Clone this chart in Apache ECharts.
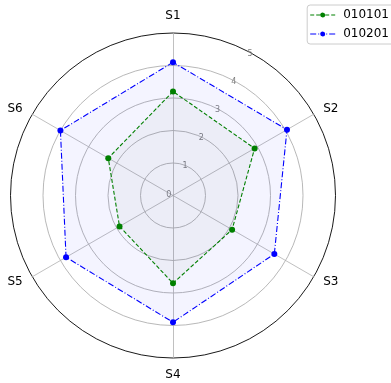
<!DOCTYPE html>
<html>
<head>
<meta charset="utf-8">
<script src="https://cdn.jsdelivr.net/npm/echarts@6/dist/echarts.min.js"></script>
<style>
  html,body{margin:0;padding:0;background:#fff;}
  #chart{width:391px;height:383px;}
</style>
</head>
<body>
<div id="chart"></div>
<script>
// 雷达图数据
var categories = ['S1', 'S2', 'S3', 'S4', 'S5', 'S6'];
var radialTicks = [0, 1, 2, 3, 4, 5];
var seriesNames = ['010101', '010201'];
var values010101 = [3.2, 2.9, 2.1, 2.7, 1.9, 2.3];
var values010201 = [4.1, 4.05, 3.6, 3.9, 3.8, 4.0];

var maxValue = radialTicks[radialTicks.length - 1];
var center = [173, 195.5];
var radius = 162.5;

// radar runs counter-clockwise, so order the axes S1, S6, S5 ... to get them clockwise
function clockwise(arr) {
  return [arr[0]].concat(arr.slice(1).reverse());
}

// legend icons: dashed line + dot, dash-dot line + dot
var iconDashed = 'path://M0,4.4h4v1.2h-4z M6,4.4h4v1.2h-4z M15,4.4h4v1.2h-4z M21,4.4h4v1.2h-4z M12.5,2.5a2.5,2.5 0 1,0 0.01,0z';
var iconDashDot = 'path://M0,4.4h6v1.2h-6z M8,4.4h1v1.2h-1z M16,4.4h1v1.2h-1z M19,4.4h6v1.2h-6z M12.5,2.5a2.5,2.5 0 1,0 0.01,0z';

var chart = echarts.init(document.getElementById('chart'));
var option = {
  animation: false,
  backgroundColor: '#fff',
  legend: {
    right: -4,
    top: 5,
    orient: 'vertical',
    itemWidth: 25,
    itemHeight: 10,
    itemGap: 7,
    padding: [4, 6, 4, 3],
    borderColor: '#cccccc',
    borderWidth: 1,
    borderRadius: 3,
    backgroundColor: '#fff',
    textStyle: {fontFamily: 'DejaVu Sans', fontSize: 12, color: '#000', padding: [0, 0, 0, 3]},
    data: [
      {name: seriesNames[0], icon: iconDashed, itemStyle: {color: '#008000'}},
      {name: seriesNames[1], icon: iconDashDot, itemStyle: {color: '#0000ff'}}
    ]
  },
  radar: {
    center: center,
    radius: radius,
    shape: 'circle',
    startAngle: 90,
    splitNumber: 5,
    indicator: clockwise(categories).map(function (c) { return {name: c, min: 0, max: maxValue}; }),
    axisName: {color: '#000', fontFamily: 'DejaVu Sans', fontSize: 12},
    nameGap: 11,
    axisLine: {lineStyle: {color: '#b0b0b0', width: 0.8}},
    splitLine: {lineStyle: {color: ['#b0b0b0', '#b0b0b0', '#b0b0b0', '#b0b0b0', '#b0b0b0', '#000000'], width: 0.9}},
    splitArea: {show: false},
    axisTick: {show: false},
    axisLabel: {show: false}
  },
  polar: {center: center, radius: radius},
  angleAxis: {
    startAngle: 60,
    axisLine: {show: false},
    axisTick: {show: false},
    axisLabel: {show: false},
    splitLine: {show: false}
  },
  radiusAxis: {
    min: 0,
    max: maxValue,
    interval: 1,
    axisLine: {show: false},
    axisTick: {show: false},
    splitLine: {show: false},
    axisLabel: {
      color: '#808080',
      fontFamily: 'DejaVu Sans',
      fontSize: 8,
      margin: 2,
      formatter: function (v) { return radialTicks.indexOf(v) >= 0 ? String(v) : ''; }
    }
  },
  series: [{
    type: 'radar',
    symbol: 'circle',
    symbolSize: 6,
    data: [
      {
        name: seriesNames[1],
        value: clockwise(values010201),
        itemStyle: {color: '#0000ff'},
        lineStyle: {color: '#0000ff', width: 1.1, type: [6, 2, 1, 2]},
        areaStyle: {color: 'rgba(0,0,255,0.06)'}
      },
      {
        name: seriesNames[0],
        value: clockwise(values010101),
        itemStyle: {color: '#008000'},
        lineStyle: {color: '#008000', width: 1.1, type: [4, 2]},
        areaStyle: {color: 'rgba(60,100,60,0.06)'}
      }
    ]
  }]
};
chart.setOption(option);
</script>
</body>
</html>
